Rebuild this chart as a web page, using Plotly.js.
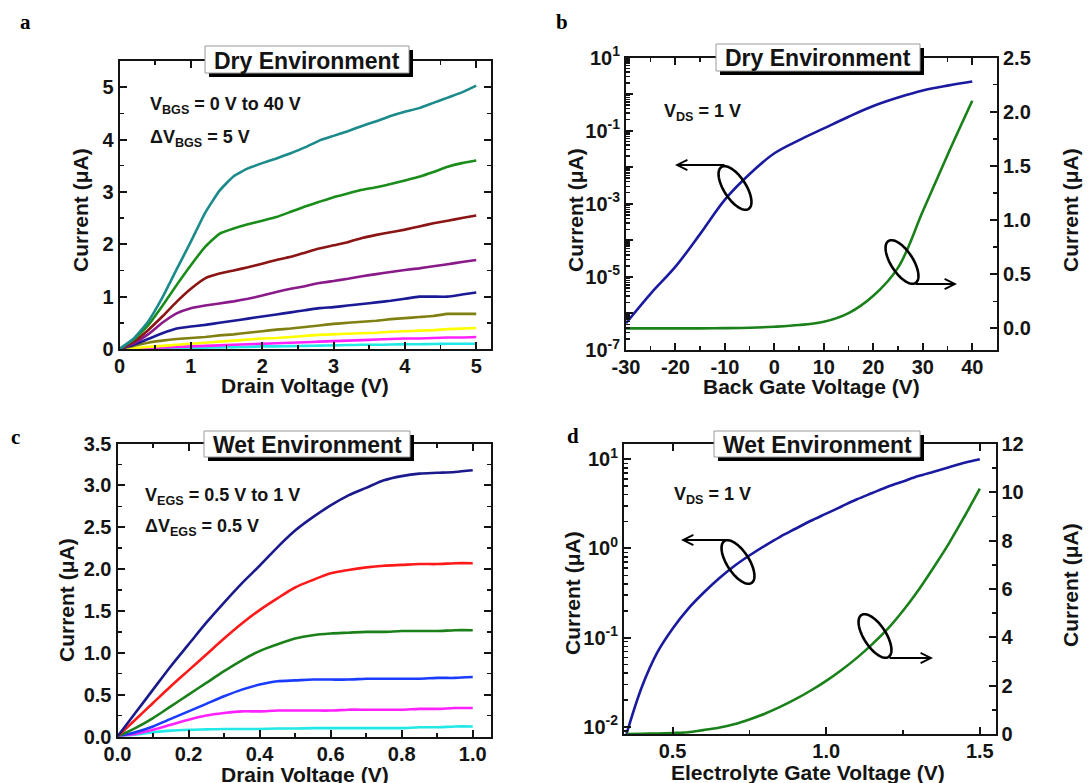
<!DOCTYPE html>
<html><head><meta charset="utf-8">
<script src="https://cdn.plot.ly/plotly-3.0.1.min.js"></script>
<style>html,body{margin:0;padding:0;background:#fff}#g{width:1088px;height:783px}</style>
</head><body><div id="g"></div>
<script>
// ---------- DATA ----------
// Panel a: output curves, dry environment (V_BGS = 0..40 V)
const aVd = [0,0.2,0.4,0.6,0.8,1.0,1.2,1.4,1.6,1.8,2.0,2.2,2.4,2.6,2.8,3.0,3.2,3.4,3.6,3.8,4.0,4.2,4.4,4.6,4.8,5.0];
const aI40 = [0,0.2,0.52,0.98,1.52,2.05,2.6,3.02,3.3,3.45,3.55,3.64,3.74,3.85,3.98,4.07,4.16,4.26,4.35,4.45,4.53,4.6,4.7,4.8,4.9,5.03];
const aI35 = [0,0.18,0.45,0.82,1.22,1.6,1.95,2.2,2.3,2.38,2.45,2.52,2.62,2.72,2.81,2.9,2.97,3.04,3.09,3.15,3.22,3.29,3.38,3.48,3.55,3.6];
const aI30 = [0,0.14,0.36,0.62,0.9,1.15,1.35,1.44,1.5,1.56,1.63,1.7,1.76,1.84,1.92,1.98,2.04,2.12,2.18,2.23,2.28,2.34,2.4,2.45,2.5,2.55];
const aI25 = [0,0.11,0.28,0.5,0.68,0.78,0.83,0.87,0.91,0.96,1.02,1.09,1.15,1.2,1.26,1.3,1.34,1.39,1.43,1.47,1.51,1.54,1.58,1.62,1.66,1.7];
const aI20 = [0,0.08,0.19,0.3,0.39,0.43,0.46,0.5,0.54,0.58,0.62,0.66,0.7,0.74,0.78,0.8,0.83,0.86,0.89,0.92,0.96,1.0,1.0,1.0,1.04,1.08];
const aI15 = [0,0.06,0.12,0.16,0.19,0.21,0.23,0.26,0.28,0.31,0.34,0.37,0.39,0.42,0.45,0.48,0.5,0.52,0.54,0.57,0.59,0.61,0.63,0.67,0.67,0.67];
const aI10 = [0,0.02,0.04,0.06,0.08,0.1,0.12,0.14,0.16,0.18,0.2,0.21,0.23,0.25,0.27,0.28,0.29,0.3,0.31,0.33,0.34,0.35,0.36,0.38,0.39,0.4];
const aI5  = [0,0.01,0.02,0.03,0.04,0.05,0.06,0.07,0.08,0.09,0.1,0.11,0.12,0.13,0.14,0.15,0.16,0.17,0.18,0.19,0.2,0.2,0.21,0.22,0.22,0.23];
const aI0  = [0,0.004,0.008,0.012,0.016,0.02,0.025,0.03,0.035,0.04,0.05,0.05,0.055,0.06,0.065,0.07,0.075,0.08,0.08,0.085,0.09,0.09,0.095,0.1,0.1,0.1];

// Panel b: transfer curve, dry environment (V_DS = 1 V)
const bVg = [-30,-25,-20,-15,-10,-5,0,5,10,15,20,25,30,35,40];
const bIlog = [5.4e-7,3.5e-6,1.9e-5,1.5e-4,1.3e-3,6.5e-3,0.024,0.055,0.115,0.24,0.47,0.8,1.25,1.7,2.2];
const bIlin = [0,0,0,0,0.002,0.006,0.015,0.03,0.06,0.14,0.3,0.56,1.08,1.6,2.1];

// Panel c: output curves, wet environment
const cVd = [0,0.05,0.1,0.15,0.2,0.25,0.3,0.35,0.4,0.45,0.5,0.55,0.6,0.65,0.7,0.75,0.8,0.85,0.9,0.95,1.0];
const cI1  = [0,0.28,0.56,0.84,1.1,1.36,1.6,1.83,2.04,2.26,2.46,2.62,2.76,2.88,2.97,3.06,3.11,3.14,3.15,3.16,3.18];
const cI2  = [0,0.2,0.4,0.6,0.79,0.98,1.17,1.35,1.51,1.65,1.78,1.87,1.95,1.99,2.02,2.04,2.05,2.06,2.06,2.07,2.07];
const cI3  = [0,0.1,0.22,0.36,0.5,0.64,0.78,0.91,1.02,1.1,1.17,1.21,1.23,1.24,1.25,1.25,1.26,1.26,1.26,1.27,1.27];
const cI4  = [0,0.05,0.12,0.21,0.3,0.39,0.48,0.56,0.62,0.66,0.67,0.68,0.68,0.68,0.69,0.69,0.69,0.69,0.7,0.7,0.71];
const cI5  = [0,0.03,0.08,0.14,0.2,0.25,0.28,0.3,0.3,0.31,0.31,0.31,0.31,0.32,0.32,0.32,0.32,0.33,0.33,0.34,0.34];
const cI6  = [0,0.02,0.05,0.07,0.08,0.085,0.09,0.09,0.09,0.095,0.095,0.1,0.1,0.1,0.1,0.1,0.1,0.11,0.11,0.12,0.12];

// Panel d: transfer curve, wet environment (V_DS = 1 V)
const dVg = [0.35,0.4,0.45,0.5,0.55,0.6,0.65,0.7,0.75,0.8,0.85,0.9,0.95,1.0,1.05,1.1,1.15,1.2,1.25,1.3,1.35,1.4,1.45,1.5];
const dIlog = [0.0083,0.028,0.068,0.126,0.209,0.316,0.457,0.631,0.832,1.07,1.35,1.66,2.04,2.45,2.95,3.55,4.17,4.9,5.62,6.46,7.24,8.13,9.12,10.0];
const dIlin = [0,0.01,0.02,0.04,0.07,0.16,0.26,0.4,0.6,0.84,1.12,1.44,1.8,2.2,2.65,3.15,3.72,4.35,5.1,5.95,6.9,7.9,9.0,10.15];

// Tick labels
const aXticks = [0,1,2,3,4,5];
const aYticks = [0,1,2,3,4,5];
const bXticks = [-30,-20,-10,0,10,20,30,40];
const bXlabels = ['-30','-20','-10','0','10','20','30','40'];
const bYlogTicks = [10,1,0.1,0.01,1e-3,1e-4,1e-5,1e-6,1e-7];
const bYlogLabels = ['10<sup>1</sup>','','10<sup>-1</sup>','','10<sup>-3</sup>','','10<sup>-5</sup>','','10<sup>-7</sup>'];
const dYlogTicks = [10,1,0.1,0.01];
const dYlogLabels = ['10<sup>1</sup>','10<sup>0</sup>','10<sup>-1</sup>','10<sup>-2</sup>'];

// ---------- LAYOUT HELPERS ----------
const W = 1088, H = 783;
const PX = x => x / W, PY = y => 1 - y / H;
const FONT = 'Liberation Sans, Arial, sans-serif';
const INK = '#141414';

function logMinor(lo, hi) {
  const v = [];
  for (let e = lo; e < hi; e++) for (let k = 2; k <= 9; k++) v.push(k * Math.pow(10, e));
  return v;
}

const MINOR = {ticks: 'inside', ticklen: 4, tickwidth: 1.5, tickcolor: INK, showgrid: false};
function axisBase(extra, minor) {
  return Object.assign({
    showline: true, linecolor: INK, linewidth: 2, ticks: 'inside', ticklen: 7, tickwidth: 2,
    tickcolor: INK, showgrid: false, zeroline: false, fixedrange: true,
    tickfont: {family: FONT, size: 20, color: INK, weight: 'bold'},
    minor: Object.assign({}, MINOR, minor)
  }, extra);
}

const line = (x, y, color, xa, ya, sm) => ({x, y, xaxis: xa, yaxis: ya, type: 'scatter', mode: 'lines',
  line: {color, width: 2.6, shape: 'spline', smoothing: sm}, hoverinfo: 'skip', showlegend: false});

const traces = [
  line(aVd, aI0, '#22e8e8', 'x', 'y', 0.4),
  line(aVd, aI5, '#ff22ff', 'x', 'y', 0.4),
  line(aVd, aI10, '#ffff00', 'x', 'y', 0.4),
  line(aVd, aI15, '#808012', 'x', 'y', 0.4),
  line(aVd, aI20, '#1a1a96', 'x', 'y', 0.4),
  line(aVd, aI25, '#8a1a8a', 'x', 'y', 0.4),
  line(aVd, aI30, '#8b1414', 'x', 'y', 0.4),
  line(aVd, aI35, '#1a8c1a', 'x', 'y', 0.4),
  line(aVd, aI40, '#1a8a8a', 'x', 'y', 0.4),
  line(bVg, bIlog, '#1a1aa0', 'x2', 'y2', 1),
  line(bVg, bIlin, '#1a801a', 'x2', 'y3', 1),
  line(cVd, cI6, '#22e8e8', 'x3', 'y4', 0.8),
  line(cVd, cI5, '#ff22ff', 'x3', 'y4', 0.8),
  line(cVd, cI4, '#1a3cff', 'x3', 'y4', 0.8),
  line(cVd, cI3, '#1a801a', 'x3', 'y4', 0.8),
  line(cVd, cI2, '#ff1a1a', 'x3', 'y4', 0.8),
  line(cVd, cI1, '#1a1a8c', 'x3', 'y4', 0.8),
  line(dVg, dIlog, '#1a1aa0', 'x4', 'y5', 1),
  line(dVg, dIlin, '#1a801a', 'x4', 'y6', 1)
];

const dom = {
  a: {x: [PX(119.5), PX(490.5)], y: [PY(349), PY(61)]},
  b: {x: [PX(626), PX(997)], y: [PY(350), PY(57.5)]},
  c: {x: [PX(117.5), PX(490.5)], y: [PY(736.5), PY(443.5)]},
  d: {x: [PX(624), PX(995.5)], y: [PY(734), PY(444)]}
};

const layout = {
  width: W, height: H, margin: {l: 0, r: 0, t: 0, b: 0},
  paper_bgcolor: '#fff', plot_bgcolor: '#fff', showlegend: false,
  xaxis: axisBase({domain: dom.a.x, anchor: 'y', range: [0, 5.2], tickvals: aXticks, mirror: 'ticks', ticklabelstandoff: -2}, {dtick: 0.5, tick0: 0}),
  yaxis: axisBase({domain: dom.a.y, anchor: 'x', range: [0, 5.5], tickvals: aYticks, mirror: 'ticks'}, {dtick: 0.5, tick0: 0}),
  xaxis2: axisBase({domain: dom.b.x, anchor: 'y2', range: [-30, 45], tickvals: bXticks, ticktext: bXlabels, mirror: 'ticks', ticklabelstandoff: -2}, {dtick: 5, tick0: 0}),
  yaxis2: axisBase({domain: dom.b.y, anchor: 'x2', type: 'log', range: [-7, 1], tickvals: bYlogTicks, ticktext: bYlogLabels},
    {tickmode: 'array', tickvals: logMinor(-7, 1)}),
  yaxis3: axisBase({domain: dom.b.y, anchor: 'x2', overlaying: 'y2', side: 'right', range: [-0.2, 2.5], dtick: 0.5, tick0: 0, tickformat: '.1f'},
    {dtick: 0.25, tick0: 0}),
  xaxis3: axisBase({domain: dom.c.x, anchor: 'y4', range: [0, 1.05], dtick: 0.2, tick0: 0, tickformat: '.1f', mirror: 'ticks', ticklabelstandoff: -2}, {dtick: 0.1, tick0: 0}),
  yaxis4: axisBase({domain: dom.c.y, anchor: 'x3', range: [0, 3.5], dtick: 0.5, tick0: 0, tickformat: '.1f', mirror: 'ticks'}, {dtick: 0.25, tick0: 0}),
  xaxis4: axisBase({domain: dom.d.x, anchor: 'y5', range: [0.342, 1.551], dtick: 0.5, tick0: 0, tickformat: '.1f', mirror: 'ticks', ticklabelstandoff: -2}, {dtick: 0.25, tick0: 0}),
  yaxis5: axisBase({domain: dom.d.y, anchor: 'x4', type: 'log', range: [-2.08, 1.17], tickvals: dYlogTicks, ticktext: dYlogLabels},
    {tickmode: 'array', tickvals: logMinor(-3, 2)}),
  yaxis6: axisBase({domain: dom.d.y, anchor: 'x4', overlaying: 'y5', side: 'right', range: [0, 12], dtick: 2, tick0: 0}, {dtick: 1, tick0: 0}),
  shapes: [],
  annotations: []
};

const ann = layout.annotations, shp = layout.shapes;

function text(t, x, y, opts) {
  ann.push(Object.assign({text: t, x: PX(x), y: PY(y), xref: 'paper', yref: 'paper', showarrow: false,
    xanchor: 'center', yanchor: 'middle', font: {family: FONT, size: 21, color: INK, weight: 'bold'}}, opts || {}));
}

function titleBox(t, x0, y0, x1, y1) {
  shp.push({type: 'rect', xref: 'paper', yref: 'paper', x0: PX(x0 + 4), x1: PX(x1 + 4), y0: PY(y1 + 4), y1: PY(y0 + 4),
    fillcolor: '#000', line: {width: 0}, layer: 'above'});
  shp.push({type: 'rect', xref: 'paper', yref: 'paper', x0: PX(x0), x1: PX(x1), y0: PY(y1), y1: PY(y0),
    fillcolor: '#fff', line: {width: 1, color: '#9a9a9a'}, layer: 'above'});
  text(t, (x0 + x1) / 2, (y0 + y1) / 2 + 1, {font: {family: FONT, size: 23, color: INK, weight: 'bold'}});
}

function ellipse(cx, cy, a, b, deg) {
  const th = deg * Math.PI / 180, pts = [];
  for (let i = 0; i <= 72; i++) {
    const t = i / 72 * 2 * Math.PI;
    const px = cx + a * Math.cos(t) * Math.cos(th) - b * Math.sin(t) * Math.sin(th);
    const py = cy + a * Math.cos(t) * Math.sin(th) + b * Math.sin(t) * Math.cos(th);
    pts.push((i ? 'L' : 'M') + PX(px).toFixed(5) + ',' + PY(py).toFixed(5));
  }
  shp.push({type: 'path', xref: 'paper', yref: 'paper', path: pts.join(' ') + ' Z',
    line: {color: '#000', width: 2.6}, layer: 'above'});
}

function arrow(x0, y0, x1, y1) {
  ann.push({x: PX(x1), y: PY(y1), xref: 'paper', yref: 'paper', ax: x0 - x1, ay: y0 - y1, axref: 'pixel', ayref: 'pixel',
    text: '', showarrow: true, arrowhead: 5, arrowsize: 1, arrowwidth: 2, arrowcolor: '#000', standoff: 0, startstandoff: 0});
}

// panel letters
const serif = {family: 'Liberation Serif', size: 21, color: '#000', weight: 'bold'};
text('a', 25, 22, {font: serif});
text('b', 562, 22, {font: serif});
text('c', 15, 437, {font: serif});
text('d', 573, 436, {font: serif});

// title boxes
titleBox('Dry Environment', 205, 46, 409, 73);
titleBox('Dry Environment', 716, 44, 920, 71);
titleBox('Wet Environment', 204, 431, 410, 457);
titleBox('Wet Environment', 714, 431, 920, 457);

// in-plot notes
const note = {family: FONT, size: 18, color: INK, weight: 'bold'};
text('V<sub>BGS</sub> = 0 V to 40 V', 148, 106, {xanchor: 'left', font: note});
text('ΔV<sub>BGS</sub> = 5 V', 148, 139, {xanchor: 'left', font: note});
text('V<sub>DS</sub> = 1 V', 662, 112, {xanchor: 'left', font: note});
text('V<sub>EGS</sub> = 0.5 V to 1 V', 143, 496, {xanchor: 'left', font: note});
text('ΔV<sub>EGS</sub> = 0.5 V', 143, 527, {xanchor: 'left', font: note});
text('V<sub>DS</sub> = 1 V', 672, 495, {xanchor: 'left', font: note});

// axis titles
text('Current (μA)', 80, 210, {textangle: -90});
text('Drain Voltage (V)', 305, 385);
text('Current (μA)', 575, 210, {textangle: -90});
text('Back Gate Voltage (V)', 811, 386);
text('Current (μA)', 1070, 210, {textangle: -90});
text('Current (μA)', 66, 600, {textangle: -90});
text('Drain Voltage (V)', 305, 774);
text('Current (μA)', 572, 593, {textangle: -90});
text('Electrolyte Gate Voltage (V)', 808, 772);
text('Current (μA)', 1070, 585, {textangle: -90});

// ellipses and arrows
ellipse(735, 188, 25, 11, 57); arrow(726, 165, 675, 165);
ellipse(902, 262, 25, 11, 57); arrow(914, 284, 957, 284);
ellipse(738, 562, 25, 11, 57); arrow(728, 540, 681, 540);
ellipse(875, 636, 25, 11, 57); arrow(888, 658, 933, 658);

Plotly.newPlot('g', traces, layout, {displayModeBar: false, staticPlot: true});
</script></body></html>
